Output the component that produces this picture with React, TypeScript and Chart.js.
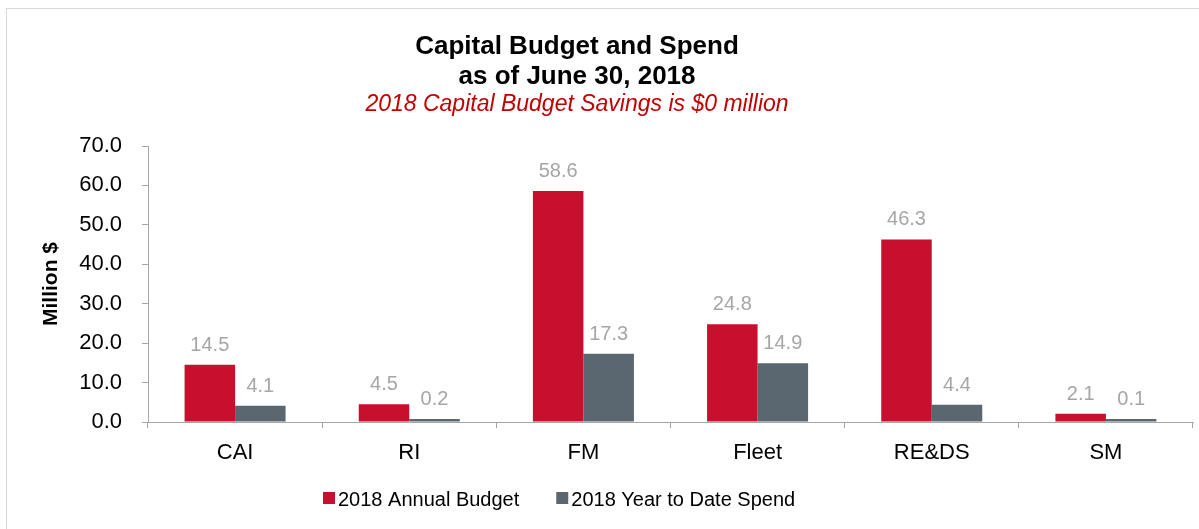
import React, { useEffect, useRef } from "react";
import { Chart, registerables } from "chart.js";

Chart.register(...registerables);

const categories = ["CAI", "RI", "FM", "Fleet", "RE&DS", "SM"];
const annualBudget = [14.5, 4.5, 58.6, 24.8, 46.3, 2.1];
const ytdSpend = [4.1, 0.2, 17.3, 14.9, 4.4, 0.1];
const seriesNames = ["2018 Annual Budget", "2018 Year to Date Spend"];
const seriesColors = ["#C8102E", "#5B6770"];
const titleLines = ["Capital Budget and Spend", "as of June 30, 2018"];
const subtitleText = "2018 Capital Budget Savings is $0 million";
const yAxisTitle = "Million $";
const yMin = 0;
const yMax = 70;
const yStep = 10;

const FONT = '"Liberation Sans", Arial, sans-serif';

const valueLabelPlugin = {
  id: "valueLabels",
  afterDatasetsDraw(chart: any) {
    const ctx = chart.ctx;
    ctx.save();
    ctx.font = `20px ${FONT}`;
    ctx.fillStyle = "#A6A6A6";
    ctx.textAlign = "center";
    ctx.textBaseline = "alphabetic";
    chart.data.datasets.forEach((ds: any, i: number) => {
      const meta = chart.getDatasetMeta(i);
      meta.data.forEach((bar: any, j: number) => {
        ctx.fillText(Number(ds.data[j]).toFixed(1), bar.x, bar.y - 14);
      });
    });
    ctx.restore();
  },
};

const headerLegendPlugin = {
  id: "headerLegend",
  afterDraw(chart: any) {
    const ctx = chart.ctx;
    ctx.save();
    const cx = 570;
    ctx.textAlign = "center";
    ctx.textBaseline = "alphabetic";
    ctx.fillStyle = "#000000";
    ctx.font = `bold 26px ${FONT}`;
    ctx.fillText(titleLines[0], cx, 45);
    ctx.fillText(titleLines[1], cx, 75);
    ctx.fillStyle = "#C00000";
    ctx.font = `italic 23px ${FONT}`;
    ctx.fillText(subtitleText, cx, 102);

    // legend
    ctx.font = `20px ${FONT}`;
    ctx.textAlign = "left";
    let x = 316;
    const box = 12;
    const boxTop = 483;
    const baseline = 497;
    chart.data.datasets.forEach((ds: any) => {
      ctx.fillStyle = ds.backgroundColor;
      ctx.fillRect(x, boxTop, box, box);
      ctx.fillStyle = "#000000";
      ctx.fillText(ds.label, x + box + 3, baseline);
      x += box + 3 + ctx.measureText(ds.label).width + 37;
    });
    ctx.restore();
  },
};

export default function App() {
  const ref = useRef<HTMLCanvasElement | null>(null);

  useEffect(() => {
    if (!ref.current) return;
    const chart = new Chart(ref.current, {
      type: "bar",
      data: {
        labels: categories,
        datasets: [
          {
            label: seriesNames[0],
            data: annualBudget,
            backgroundColor: seriesColors[0],
            barPercentage: 1,
            categoryPercentage: 0.58,
            minBarLength: 3,
          },
          {
            label: seriesNames[1],
            data: ytdSpend,
            backgroundColor: seriesColors[1],
            barPercentage: 1,
            categoryPercentage: 0.58,
            minBarLength: 3,
          },
        ],
      },
      options: {
        animation: false,
        responsive: false,
        devicePixelRatio: 1,
        layout: { padding: { top: 137, left: 0, right: 6, bottom: 57 } },
        plugins: {
          legend: { display: false },
          title: { display: false },
          tooltip: { enabled: false },
        },
        scales: {
          x: {
            afterFit(scale: any) {
              scale.height = 50;
            },
            grid: {
              display: true,
              drawOnChartArea: false,
              drawTicks: true,
              tickLength: 6,
              color: "#A6A6A6",
              offset: true,
            },
            border: { display: true, color: "#A6A6A6", width: 1 },
            ticks: {
              color: "#000000",
              font: { family: FONT, size: 22 },
              padding: 12,
              maxRotation: 0,
              autoSkip: false,
            },
          },
          y: {
            min: yMin,
            max: yMax,
            afterFit(scale: any) {
              scale.width = 141;
            },
            grid: {
              display: true,
              drawOnChartArea: false,
              drawTicks: true,
              tickLength: 6,
              color: "#A6A6A6",
            },
            border: { display: true, color: "#A6A6A6", width: 1 },
            ticks: {
              stepSize: yStep,
              color: "#000000",
              font: { family: FONT, size: 22 },
              padding: 20,
              callback: (v: any) => Number(v).toFixed(1),
            },
            title: {
              display: true,
              text: yAxisTitle,
              color: "#000000",
              font: { family: FONT, size: 21, weight: "bold" },
              padding: { top: 32, bottom: 0 },
            },
          },
        },
      },
      plugins: [valueLabelPlugin, headerLegendPlugin],
    } as any);
    return () => chart.destroy();
  }, []);

  return (
    <div
      style={{
        position: "absolute",
        left: 6,
        top: 8,
        width: 1192,
        height: 520,
        border: "1px solid #D9D9D9",
        background: "#FFFFFF",
      }}
    >
      <canvas ref={ref} width={1192} height={520} style={{ display: "block" }} />
    </div>
  );
}
